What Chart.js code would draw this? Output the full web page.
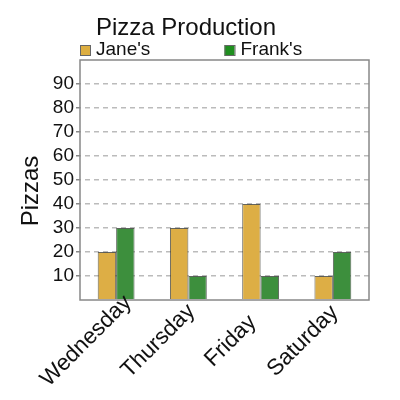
<!DOCTYPE html>
<html>
<head>
<meta charset="utf-8">
<script src="https://cdn.jsdelivr.net/npm/chart.js@4.4.1/dist/chart.umd.min.js"></script>
<style>
  html, body { margin: 0; padding: 0; background: #fff; }
  #caixa { width: 400px; height: 400px; }
</style>
</head>
<body>
<div id="caixa"><canvas id="producao"></canvas></div>
<script>
// dados do grafico
const titulo = "Pizza Production";
const tituloY = "Pizzas";
const dias = ["Wednesday", "Thursday", "Friday", "Saturday"];
const series = ["Jane's", "Frank's"];
const jane = [20, 30, 40, 10];
const frank = [30, 10, 10, 20];
const ticksY = [10, 20, 30, 40, 50, 60, 70, 80, 90];

const fonte = "'Liberation Sans', Arial, sans-serif";
const coresBarra = ["#ddae45", "#3d8f3d"];
const coresLegenda = ["#ddae40", "#1f8f1f"];

// titulo, legenda, rotulos do eixo x, titulo do eixo y e moldura
const extras = {
  id: "extras",
  afterDraw(chart) {
    const { ctx, chartArea: a } = chart;
    ctx.save();
    ctx.strokeStyle = "#888";
    ctx.lineWidth = 1.5;
    ctx.strokeRect(a.left, a.top, a.right - a.left, a.bottom - a.top);

    ctx.fillStyle = "#111";
    ctx.textBaseline = "alphabetic";
    ctx.textAlign = "center";
    ctx.font = "24px " + fonte;
    ctx.fillText(titulo, 186, 35);

    ctx.textAlign = "left";
    ctx.font = "19px " + fonte;
    const posX = [a.left, (a.left + a.right) / 2];
    series.forEach((nome, i) => {
      ctx.fillStyle = coresLegenda[i];
      ctx.fillRect(posX[i], 45, 10, 11);
      ctx.strokeStyle = "#666";
      ctx.lineWidth = 1;
      ctx.strokeRect(posX[i] + 0.5, 45.5, 10, 10);
      ctx.fillStyle = "#111";
      ctx.fillText(nome, posX[i] + 16, 55);
    });

    // rotulos das categorias, inclinados e centrados
    const sx = chart.scales.x;
    ctx.font = "22.5px " + fonte;
    ctx.textAlign = "center";
    ctx.textBaseline = "middle";
    dias.forEach((dia, i) => {
      ctx.save();
      ctx.translate(sx.getPixelForValue(i) - 30, 341);
      ctx.rotate(-Math.PI / 4);
      ctx.fillText(dia, 0, 0);
      ctx.restore();
    });

    ctx.font = "24px " + fonte;
    ctx.textBaseline = "alphabetic";
    ctx.translate(38, 191);
    ctx.rotate(-Math.PI / 2);
    ctx.fillText(tituloY, 0, 0);
    ctx.restore();
  }
};

new Chart(document.getElementById("producao"), {
  type: "bar",
  data: {
    labels: dias,
    datasets: [
      {
        label: series[0],
        data: jane,
        backgroundColor: coresBarra[0],
        borderColor: "rgba(50,50,40,0.75)",
        borderWidth: 1,
        categoryPercentage: 0.51,
        barPercentage: 1
      },
      {
        label: series[1],
        data: frank,
        backgroundColor: coresBarra[1],
        borderColor: "rgba(40,50,40,0.75)",
        borderWidth: 1,
        categoryPercentage: 0.51,
        barPercentage: 1
      }
    ]
  },
  options: {
    responsive: true,
    maintainAspectRatio: false,
    animation: false,
    layout: { padding: { top: 60, right: 31, bottom: 0, left: 0 } },
    scales: {
      x: {
        grid: { display: false },
        border: { display: false },
        ticks: { display: false },
        afterFit(s) { s.height = 100; }
      },
      y: {
        min: 0,
        max: 100,
        border: { display: false, dash: [5, 4], dashOffset: 4 },
        grid: {
          color: (c) => ticksY.includes(c.tick.value) ? "#bbb" : "rgba(0,0,0,0)",
          lineWidth: 1.5,
          tickColor: (c) => ticksY.includes(c.tick.value) ? "#888" : "rgba(0,0,0,0)",
          tickLength: 4,
          tickWidth: 1.5
        },
        ticks: {
          stepSize: 10,
          autoSkip: false,
          color: "#111",
          padding: 2,
          font: { family: fonte, size: 19 },
          callback: (v) => ticksY.includes(v) ? String(v) : ""
        },
        afterFit(s) { s.width = 80; }
      }
    },
    plugins: {
      legend: { display: false },
      title: { display: false },
      tooltip: { enabled: false }
    }
  },
  plugins: [extras]
});
</script>
</body>
</html>
